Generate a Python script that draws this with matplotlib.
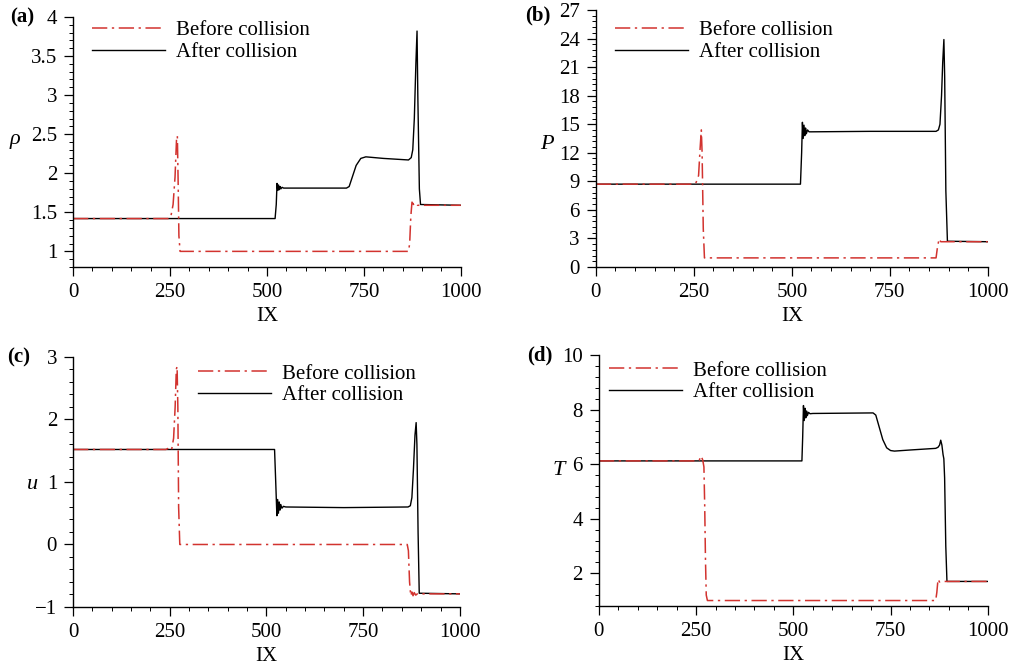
import matplotlib
matplotlib.use("Agg")
import matplotlib.pyplot as plt
from matplotlib.ticker import MultipleLocator, FuncFormatter

plt.rcParams['font.family'] = ['Liberation Serif', 'DejaVu Serif']
plt.rcParams['font.size'] = 15

RED = '#d2332f'

# (a) density
rho_ix_before = [0, 245, 252, 258, 263, 267, 269, 271, 273, 276, 865, 868, 871, 874, 878, 882, 888, 900, 1000]
rho_before = [1.42, 1.42, 1.44, 1.6, 1.95, 2.45, 2.48, 1.9, 1.2, 1.0, 1.0, 1.1, 1.45, 1.63, 1.6, 1.62, 1.59, 1.59, 1.59]
rho_ix_after = [0, 521, 524, 526, 528, 530, 532, 534, 536, 539, 543, 550, 705, 712, 720, 730, 742, 755, 800,
                865, 872, 876, 880, 884, 887, 889, 893, 896, 1000]
rho_after = [1.42, 1.42, 1.6, 1.87, 1.78, 1.85, 1.79, 1.83, 1.8, 1.82, 1.81, 1.81, 1.81, 1.83, 1.95, 2.1, 2.19, 2.21, 2.19,
             2.17, 2.2, 2.3, 2.7, 3.4, 3.82, 3.0, 1.8, 1.6, 1.59]

# (b) pressure
p_ix_before = [0, 240, 255, 262, 266, 269, 271, 274, 277, 868, 872, 876, 880, 1000]
p_before = [8.7, 8.7, 8.8, 9.6, 12.5, 14.4, 12.0, 4.0, 0.95, 0.95, 2.2, 2.95, 2.65, 2.65]
p_ix_after = [0, 522, 525, 527, 529, 531, 533, 535, 537, 540, 544, 550, 700, 868, 874, 878, 882, 885, 888, 890,
              893, 897, 1000]
p_after = [8.7, 8.7, 12.0, 15.2, 13.5, 14.9, 13.8, 14.6, 14.0, 14.4, 14.2, 14.2, 14.25, 14.25, 14.4, 15.0, 18.0, 21.5,
           23.9, 20.0, 8.0, 2.7, 2.65]

# (c) velocity
u_ix_before = [0, 240, 250, 255, 260, 264, 267, 269, 271, 273, 276, 864, 867, 870, 873, 876, 879, 882, 886, 890, 1000]
u_before = [1.52, 1.52, 1.55, 1.52, 1.7, 2.2, 2.8, 2.85, 2.2, 0.6, 0.0, 0.0, -0.1, -0.6, -0.82, -0.76, -0.82, -0.77,
            -0.81, -0.79, -0.79]
u_ix_after = [0, 521, 524, 527, 529, 531, 533, 535, 537, 540, 544, 550, 700, 866, 872, 876, 880, 884, 887, 889, 892,
              895, 1000]
u_after = [1.52, 1.52, 1.0, 0.46, 0.72, 0.5, 0.68, 0.55, 0.64, 0.58, 0.61, 0.6, 0.59, 0.6, 0.62, 0.75, 1.2, 1.75, 1.95,
           1.6, 0.2, -0.78, -0.79]

# (d) temperature
t_ix_before = [0, 250, 258, 263, 267, 270, 272, 274, 276, 279, 866, 869, 872, 876, 880, 1000]
t_before = [6.12, 6.12, 6.15, 6.3, 6.15, 5.9, 4.5, 2.5, 1.2, 1.0, 1.0, 1.3, 1.78, 1.68, 1.7, 1.7]
t_ix_after = [0, 522, 524, 526, 528, 530, 532, 534, 536, 539, 543, 550, 705, 712, 720, 730, 740, 750, 760, 800,
              866, 872, 876, 879, 882, 885, 887, 889, 892, 895, 1000]
t_after = [6.12, 6.12, 7.0, 8.15, 7.6, 8.05, 7.7, 7.95, 7.78, 7.9, 7.85, 7.86, 7.88, 7.8, 7.4, 6.9, 6.6, 6.5, 6.48, 6.52,
           6.58, 6.62, 6.7, 6.88, 6.7, 6.35, 6.2, 5.5, 3.0, 1.7, 1.7]

panels = [
    dict(rect=[0.0723, 0.6009, 0.384, 0.3737], tag='(a)', ylab='\u03c1', ylab_xy=(-0.15, 0.51),
         ylim=(0.8, 4), major=0.5, minor=0.1, leg=(0.049, 0.985),
         before=(rho_ix_before, rho_before), after=(rho_ix_after, rho_after), tag_xy=(10, 17)),
    dict(rect=[0.590, 0.601, 0.388, 0.384], tag='(b)', ylab='P', ylab_xy=(-0.125, 0.475),
         ylim=(0, 27), major=3, minor=0.6, leg=(0.048, 0.958),
         before=(p_ix_before, p_before), after=(p_ix_after, p_after), tag_xy=(525, 15)),
    dict(rect=[0.0723, 0.0927, 0.383, 0.3737], tag='(c)', ylab='u', ylab_xy=(-0.106, 0.49),
         ylim=(-1, 3), major=1, minor=0.2, leg=(0.323, 0.972),
         before=(u_ix_before, u_before), after=(u_ix_after, u_after), tag_xy=(7, 357)),
    dict(rect=[0.593, 0.0942, 0.385, 0.375], tag='(d)', ylab='T', ylab_xy=(-0.103, 0.54),
         ylim=(0.8, 10), major=2, minor=0.4, leg=(0.026, 0.976),
         before=(t_ix_before, t_before), after=(t_ix_after, t_after), tag_xy=(527, 355)),
]

tick_fmt = FuncFormatter(lambda v, pos: f'{v:g}'.replace('-', '\u2212'))

W, H = 1010, 669
fig = plt.figure(figsize=(W / 100, H / 100), dpi=100)

for p in panels:
    ax = fig.add_axes(p['rect'])
    la, = ax.plot(*p['after'], color='black', lw=1.0, label='After collision')
    lb, = ax.plot(*p['before'], color=RED, lw=1.1, dashes=(10, 3, 1.5, 3), label='Before collision')

    ax.set_xlim(0, 1000)
    ax.set_ylim(*p['ylim'])
    ax.xaxis.set_major_locator(MultipleLocator(250))
    ax.xaxis.set_minor_locator(MultipleLocator(50))
    ax.yaxis.set_major_locator(MultipleLocator(p['major']))
    ax.yaxis.set_minor_locator(MultipleLocator(p['minor']))
    ax.yaxis.set_major_formatter(tick_fmt)
    ax.tick_params(which='major', direction='out', length=6.5, width=0.9, pad=5)
    ax.tick_params(which='minor', direction='out', length=3, width=0.7)
    for s in ('top', 'right'):
        ax.spines[s].set_visible(False)
    for s in ('left', 'bottom'):
        ax.spines[s].set_linewidth(1.0)

    ax.set_xlabel('IX', labelpad=3.5)
    ax.set_ylabel(p['ylab'], rotation=0, fontstyle='italic', va='center', ha='center', fontsize=16)
    ax.yaxis.set_label_coords(*p['ylab_xy'])

    ax.legend(handles=[lb, la], loc='upper left', bbox_to_anchor=p['leg'], frameon=False,
              borderpad=0, borderaxespad=0, handlelength=3.5, handletextpad=0.55, labelspacing=0.1)

    tx, ty = p['tag_xy']
    fig.text(tx / W, 1 - ty / H, p['tag'], fontweight='bold', ha='left', va='center')

fig.savefig('out.png', dpi=100)
